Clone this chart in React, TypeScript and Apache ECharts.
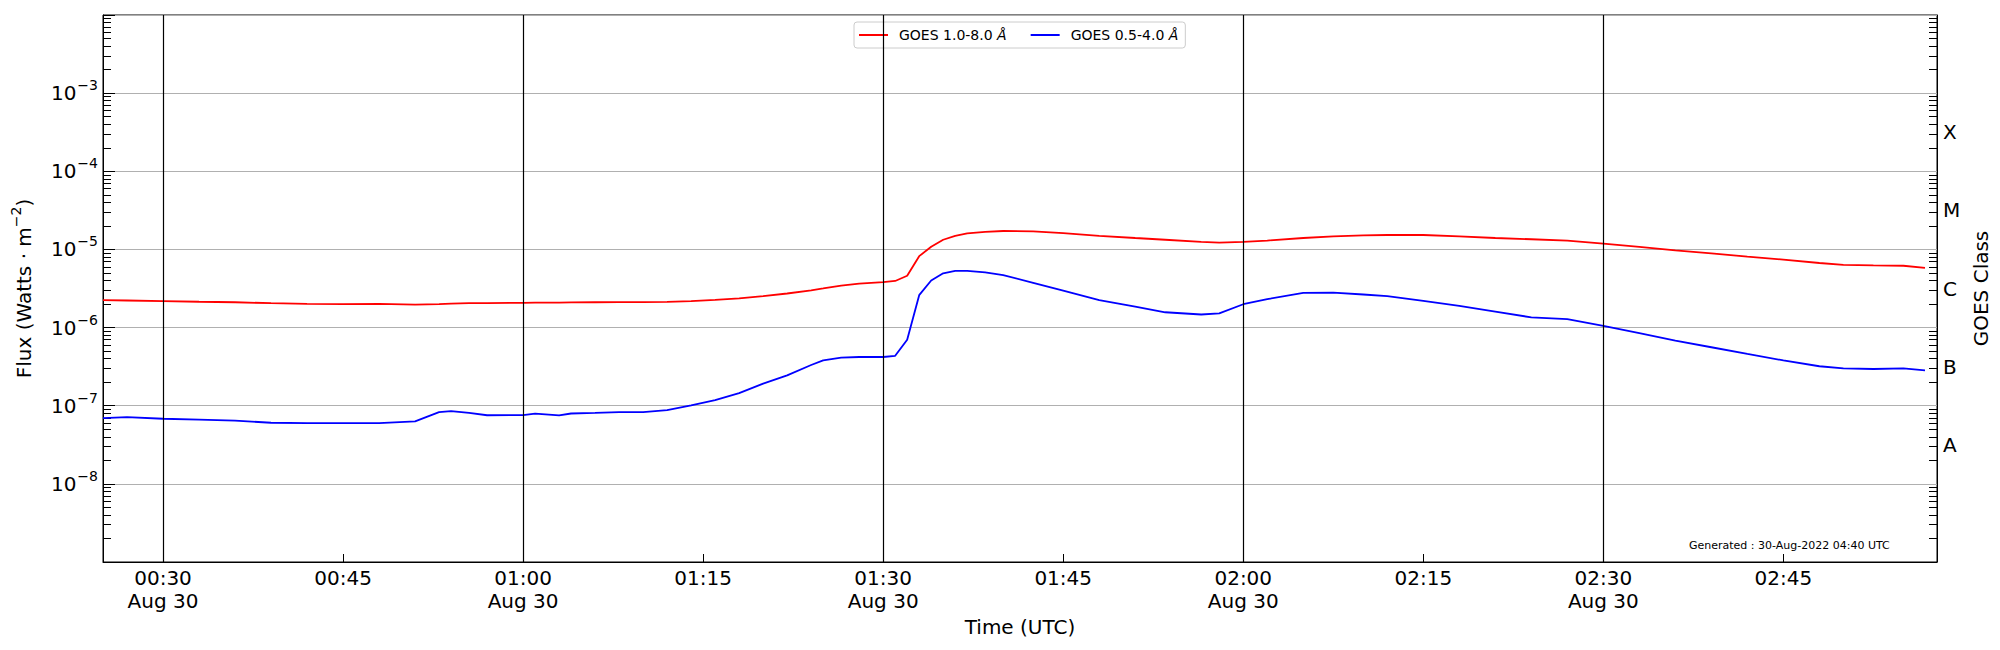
import React, { useEffect, useRef } from 'react';
import * as echarts from 'echarts';

const FONT = 'DejaVu Sans';
const X_MIN_MINUTE = 25;
const X_MAX_MINUTE = 177.8;
const DATE_LABEL = 'Aug 30';

// minutes after 00:00 UTC, 30-Aug-2022
const TIME_MIN = [
  25, 27, 30, 33, 36, 39, 42, 45, 48, 51,
  53, 54, 55.5, 57, 60, 61, 63, 64, 66, 68,
  70, 72, 74, 76, 78, 80, 82, 84, 85, 86.5,
  88, 90, 91, 92, 93, 94, 95, 96, 97, 98.5,
  100, 102.5, 105, 108, 111, 113.5, 116.5, 118, 120, 122,
  125, 127.5, 130, 132, 135, 138, 141, 144, 147, 150,
  153, 156, 159, 162, 165, 168, 170, 172.5, 175, 176.8,
];

// GOES 1.0-8.0 Å (W m^-2)
const GOES_LONG = [
  2.24e-6, 2.22e-6, 2.18e-6, 2.14e-6, 2.11e-6, 2.05e-6, 2.01e-6, 1.99e-6, 2.01e-6, 1.97e-6,
  2.0e-6, 2.02e-6, 2.05e-6, 2.06e-6, 2.07e-6, 2.08e-6, 2.09e-6, 2.1e-6, 2.11e-6, 2.12e-6,
  2.12e-6, 2.13e-6, 2.18e-6, 2.26e-6, 2.37e-6, 2.53e-6, 2.73e-6, 3.0e-6, 3.17e-6, 3.45e-6,
  3.65e-6, 3.81e-6, 3.95e-6, 4.6e-6, 8.2e-6, 1.08e-5, 1.33e-5, 1.49e-5, 1.6e-5, 1.68e-5,
  1.72e-5, 1.7e-5, 1.62e-5, 1.49e-5, 1.4e-5, 1.33e-5, 1.25e-5, 1.22e-5, 1.25e-5, 1.3e-5,
  1.4e-5, 1.47e-5, 1.51e-5, 1.53e-5, 1.53e-5, 1.47e-5, 1.4e-5, 1.35e-5, 1.3e-5, 1.19e-5,
  1.08e-5, 9.7e-6, 8.9e-6, 8.1e-6, 7.4e-6, 6.7e-6, 6.35e-6, 6.25e-6, 6.18e-6, 5.82e-6,
];

// GOES 0.5-4.0 Å (W m^-2)
const GOES_SHORT = [
  6.95e-8, 7.16e-8, 6.81e-8, 6.62e-8, 6.45e-8, 6.05e-8, 6.0e-8, 6.0e-8, 6.0e-8, 6.3e-8,
  8.3e-8, 8.55e-8, 8.1e-8, 7.55e-8, 7.6e-8, 7.9e-8, 7.5e-8, 7.95e-8, 8.1e-8, 8.3e-8,
  8.3e-8, 8.8e-8, 1.01e-7, 1.18e-7, 1.45e-7, 1.92e-7, 2.45e-7, 3.32e-7, 3.81e-7, 4.12e-7,
  4.2e-7, 4.2e-7, 4.35e-7, 7.0e-7, 2.6e-6, 4.0e-6, 4.95e-6, 5.32e-6, 5.32e-6, 5.1e-6,
  4.7e-6, 3.74e-6, 2.97e-6, 2.24e-6, 1.85e-6, 1.57e-6, 1.47e-6, 1.52e-6, 1.99e-6, 2.31e-6,
  2.78e-6, 2.8e-6, 2.65e-6, 2.52e-6, 2.2e-6, 1.9e-6, 1.6e-6, 1.35e-6, 1.28e-6, 1.05e-6,
  8.5e-7, 6.8e-7, 5.6e-7, 4.6e-7, 3.8e-7, 3.2e-7, 3.0e-7, 2.95e-7, 3.0e-7, 2.84e-7,
];

const SERIES_NAMES = ['GOES 1.0-8.0 Å', 'GOES 0.5-4.0 Å'];
const SERIES_COLORS = ['#ff0000', '#0000ff'];

const X_TICK_MIN = [30, 45, 60, 75, 90, 105, 120, 135, 150, 165];
const VLINE_MIN = [30, 60, 90, 120, 150];
const Y_LABEL_EXP = [-8, -7, -6, -5, -4, -3];
const CLASS_LETTERS = ['A', 'B', 'C', 'M', 'X'];
const CLASS_POS = [-7.5, -6.5, -5.5, -4.5, -3.5];
const Y_MIN_EXP = -9;
const Y_MAX_EXP = -2;
const GENERATED_TEXT = 'Generated : 30-Aug-2022 04:40 UTC';

const pad = (n: number) => (n < 10 ? '0' + n : '' + n);

// log-minor tick positions (2..9 x 10^k) expressed as exponents
const MINOR_TICKS: number[] = [];
for (let k = Y_MIN_EXP; k < Y_MAX_EXP; k++) {
  for (let m = 2; m <= 9; m++) MINOR_TICKS.push(k + Math.log10(m));
}

export default function App() {
  const ref = useRef<HTMLDivElement>(null);

  useEffect(() => {
    if (!ref.current) return;
    const chart = echarts.init(ref.current, null, { renderer: 'svg' });

    const longData = TIME_MIN.map((t, i) => [t, GOES_LONG[i]]);
    const shortData = TIME_MIN.map((t, i) => [t, GOES_SHORT[i]]);

    const option: any = {
      animation: false,
      backgroundColor: '#ffffff',
      textStyle: { fontFamily: FONT },
      grid: {
        left: 103,
        right: 63,
        top: 15,
        bottom: 88,
        show: true,
        borderColor: '#000000',
        borderWidth: 1,
        containLabel: false,
      },
      legend: {
        left: 854,
        top: 22,
        orient: 'horizontal',
        padding: [6, 7, 6, 5],
        itemGap: 24,
        itemWidth: 29,
        itemHeight: 2,
        icon: 'rect',
        borderColor: '#cccccc',
        borderWidth: 1,
        borderRadius: 3,
        backgroundColor: 'rgba(255,255,255,0.8)',
        data: SERIES_NAMES,
        formatter: (name: string) => `{t|${name.slice(0, -1)}}{i|${name.slice(-1)}}`,
        textStyle: {
          fontSize: 14,
          color: '#000',
          fontFamily: FONT,
          rich: {
            t: { fontSize: 14, color: '#000', fontFamily: FONT, lineHeight: 16, padding: [0, 0, 0, 6] },
            i: { fontSize: 14, color: '#000', fontFamily: FONT, fontStyle: 'italic', lineHeight: 16 },
          },
        },
      },
      xAxis: [
        {
          type: 'value',
          min: X_MIN_MINUTE,
          max: X_MAX_MINUTE,
          axisLine: { show: true, lineStyle: { color: '#000', width: 1 } },
          axisTick: {
            show: true,
            inside: true,
            length: 8,
            customValues: X_TICK_MIN,
            lineStyle: { color: '#000', width: 1 },
          },
          axisLabel: {
            customValues: X_TICK_MIN,
            hideOverlap: false,
            fontSize: 20,
            lineHeight: 23,
            color: '#000',
            fontFamily: FONT,
            margin: 4,
            formatter: (val: number) => {
              const h = Math.floor(val / 60);
              const m = Math.round(val - h * 60);
              const s = `${pad(h)}:${pad(m)}`;
              return m % 30 === 0 ? `${s}\n${DATE_LABEL}` : s;
            },
          },
          splitLine: { show: false },
          name: 'Time (UTC)',
          nameLocation: 'middle',
          nameGap: 52,
          nameTextStyle: { fontSize: 20, color: '#000', fontFamily: FONT },
        },
      ],
      yAxis: [
        {
          type: 'log',
          logBase: 10,
          min: Math.pow(10, Y_MIN_EXP),
          max: Math.pow(10, Y_MAX_EXP),
          position: 'left',
          axisLine: { show: true, lineStyle: { color: '#000', width: 1 } },
          axisTick: { show: true, inside: true, length: 12, lineStyle: { color: '#000', width: 1 } },
          axisLabel: {
            margin: 5,
            formatter: (v: number) => {
              const e = Math.round(Math.log10(v));
              if (Y_LABEL_EXP.indexOf(e) < 0) return '';
              return `{b|10}{s|−${Math.abs(e)}}`;
            },
            rich: {
              b: { fontSize: 20, color: '#000', fontFamily: FONT },
              s: { fontSize: 14, color: '#000', fontFamily: FONT, padding: [0, 0, 16, 1] },
            },
          },
          splitLine: { show: true, lineStyle: { color: '#b0b0b0', width: 1 } },
          name: '{n|Flux (Watts · m}{s|−2}{n|)}',
          nameLocation: 'middle',
          nameGap: 64,
          nameRotate: 90,
          nameTextStyle: {
            rich: {
              n: { fontSize: 20, color: '#000', fontFamily: FONT },
              s: { fontSize: 14, color: '#000', fontFamily: FONT, padding: [0, 0, 16, 0] },
            },
          },
        },
        {
          type: 'value',
          min: Y_MIN_EXP,
          max: Y_MAX_EXP,
          position: 'left',
          axisLine: { show: false },
          axisTick: {
            show: true,
            inside: true,
            length: 8,
            customValues: MINOR_TICKS,
            lineStyle: { color: '#000', width: 1 },
          },
          axisLabel: { show: false },
          splitLine: { show: false },
        },
        {
          type: 'value',
          min: Y_MIN_EXP,
          max: Y_MAX_EXP,
          position: 'right',
          axisLine: { show: true, lineStyle: { color: '#000', width: 1 } },
          axisTick: {
            show: true,
            inside: true,
            length: 8,
            customValues: MINOR_TICKS,
            lineStyle: { color: '#000', width: 1 },
          },
          axisLabel: {
            customValues: CLASS_POS,
            margin: 6,
            fontSize: 20,
            color: '#000',
            fontFamily: FONT,
            formatter: (v: number) => {
              const idx = CLASS_POS.findIndex((p) => Math.abs(p - v) < 1e-6);
              return idx >= 0 ? CLASS_LETTERS[idx] : '';
            },
          },
          splitLine: { show: false },
          name: 'GOES Class',
          nameLocation: 'middle',
          nameGap: 26,
          nameRotate: 90,
          nameTextStyle: { fontSize: 20, color: '#000', fontFamily: FONT },
        },
      ],
      series: [
        {
          name: SERIES_NAMES[0],
          type: 'line',
          xAxisIndex: 0,
          yAxisIndex: 0,
          data: longData,
          showSymbol: false,
          symbol: 'none',
          color: SERIES_COLORS[0],
          lineStyle: { color: SERIES_COLORS[0], width: 1.8 },
          markLine: {
            silent: true,
            symbol: ['none', 'none'],
            label: { show: false },
            lineStyle: { color: '#000', width: 1.2, type: 'solid' },
            data: VLINE_MIN.map((m) => ({ xAxis: m })),
          },
        },
        {
          name: SERIES_NAMES[1],
          type: 'line',
          xAxisIndex: 0,
          yAxisIndex: 0,
          data: shortData,
          showSymbol: false,
          symbol: 'none',
          color: SERIES_COLORS[1],
          lineStyle: { color: SERIES_COLORS[1], width: 1.8 },
        },
      ],
      graphic: [
        {
          type: 'text',
          left: 1689,
          top: 540,
          style: {
            text: GENERATED_TEXT,
            fontSize: 11,
            fontFamily: FONT,
            fill: '#000',
          },
        },
      ],
    };

    chart.setOption(option);
    return () => chart.dispose();
  }, []);

  return (
    <div
      style={{ position: 'fixed', left: 0, top: 0, width: 2000, height: 650, background: '#fff' }}
    >
      <div ref={ref} style={{ width: 2000, height: 650 }} />
    </div>
  );
}
